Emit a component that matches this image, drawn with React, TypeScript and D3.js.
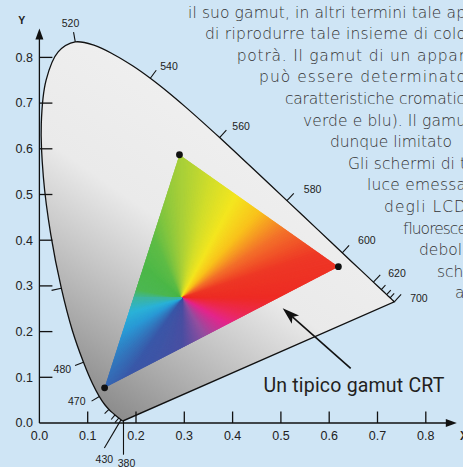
import React from 'react';
import * as d3 from 'd3';

const WIDTH = 463;
const HEIGHT = 467;

// CIE 1931 spectral locus (nm, x, y)
const locusNm = [380, 385, 390, 395, 400, 405, 410, 415, 420, 425, 430, 435, 440, 445, 450, 455, 460, 465, 470, 475, 480, 485, 490, 495, 500, 505, 510, 515, 520, 525, 530, 535, 540, 545, 550, 555, 560, 565, 570, 575, 580, 585, 590, 595, 600, 605, 610, 615, 620, 625, 630, 635, 640, 645, 650, 660, 670, 680, 700];
const locusX = [0.1741, 0.1740, 0.1738, 0.1736, 0.1733, 0.1730, 0.1726, 0.1721, 0.1714, 0.1703, 0.1689, 0.1669, 0.1644, 0.1611, 0.1566, 0.1510, 0.1440, 0.1355, 0.1241, 0.1096, 0.0913, 0.0687, 0.0454, 0.0235, 0.0082, 0.0039, 0.0139, 0.0389, 0.0743, 0.1142, 0.1547, 0.1929, 0.2296, 0.2658, 0.3016, 0.3373, 0.3731, 0.4087, 0.4441, 0.4788, 0.5125, 0.5448, 0.5752, 0.6029, 0.6270, 0.6482, 0.6658, 0.6801, 0.6915, 0.7006, 0.7079, 0.7140, 0.7190, 0.7230, 0.7260, 0.7300, 0.7320, 0.7334, 0.7347];
const locusY = [0.0050, 0.0050, 0.0049, 0.0049, 0.0048, 0.0048, 0.0048, 0.0048, 0.0051, 0.0058, 0.0069, 0.0086, 0.0109, 0.0138, 0.0177, 0.0227, 0.0297, 0.0399, 0.0578, 0.0868, 0.1327, 0.2007, 0.2950, 0.4127, 0.5384, 0.6548, 0.7502, 0.8120, 0.8338, 0.8262, 0.8059, 0.7816, 0.7543, 0.7243, 0.6923, 0.6589, 0.6245, 0.5896, 0.5547, 0.5202, 0.4866, 0.4544, 0.4242, 0.3965, 0.3725, 0.3514, 0.3340, 0.3197, 0.3083, 0.2993, 0.2920, 0.2859, 0.2809, 0.2770, 0.2740, 0.2700, 0.2680, 0.2666, 0.2653];

const axisTicks = [0, 0.1, 0.2, 0.3, 0.4, 0.5, 0.6, 0.7, 0.8];

// wavelength ticks on the locus
const tickNm = [440, 450, 460, 470, 480, 490, 520, 540, 560, 580, 600, 620, 630, 640, 650, 700];
const tickLen = [6, 6, 6, 9, 9, 10, 10, 10, 10, 10, 10, 10, 6, 6, 6, 10];
const labelNm = [470, 480, 520, 540, 560, 580, 600, 620, 700];
const labelDx = [-6, -4, -3, 4, 6, 10, 9, 8, 9];
const labelDy = [4, 7, -5, 0, 0, 0, -1.5, 2, 8];
const labelAnchor = ['end', 'end', 'middle', 'start', 'start', 'start', 'start', 'start', 'start'];
const leaderNm = [430, 380];
const leaderDx = [-16.6, 0];
const leaderDy = [28.2, 34];
const leaderLabelDx = [0, 3];
const leaderLabelDy = [15, 12];

// CRT gamut: green, red, blue primaries
const gamutX = [0.29, 0.619, 0.135];
const gamutY = [0.587, 0.342, 0.077];
const gamutCenter = [0.295, 0.2735];

// colour around the centre of the gamut (screen angle in degrees)
const hueAngles = [-180, -169, -140, -115, -90, -75, -62, -48, -33, -18, 0, 15, 30, 60, 90, 125, 150, 165, 180];
const hueColors = ['#3db5a0', '#4cb852', '#4cb848', '#5ebc46', '#a8cf38', '#d4de2a', '#f4e61f', '#f9c21c', '#f3712a', '#ee3826', '#ee2b24', '#ec2a55', '#e4268c', '#934fa0', '#4a4fa2', '#3a58a8', '#2a9ad6', '#2bb3d8', '#3db5a0'];

// annotation
const annText = 'Un tipico gamut CRT';
const annTail = [0.6445, 0.1197];
const annTip = [0.5037, 0.251];
const annLabel = [0.4638, 0.0685];

// running text on the right
const textLines = [
  'spazio dei colori di ogni monitor è detto',
  'il suo gamut, in altri termini tale ap',
  'di riprodurre tale insieme di colo',
  'potrà. Il gamut di un appar',
  'può essere determinato',
  'caratteristiche cromatic',
  'verde e blu). Il gamu',
  'dunque limitato',
  'Gli schermi di t',
  'luce emessa',
  'degli LCD',
  'fluoresce',
  'debol',
  'sch',
  'a',
];
const textStart = [173, 188, 205, 236.7, 259, 285, 303, 330, 348, 367, 384, 402, 419, 437, 455];
const textEnd = [470, 466, 466, 465, 466, 465, 466, 452, 466, 466, 466, 466, 465, 465, 465];

const xScale = d3.scaleLinear().domain([0, 0.8]).range([39.4, 425.8]);
const yScale = d3.scaleLinear().domain([0, 0.8]).range([423, 57.4]);

const hueColor = d3.scaleLinear<string>().domain(hueAngles).range(hueColors).interpolate(d3.interpolateRgb);

const tickGeom = (nm: number, len: number) => {
  const i = locusNm.indexOf(nm);
  const a = Math.max(i - 1, 0);
  const b = Math.min(i + 1, locusNm.length - 1);
  const tx = xScale(locusX[b]) - xScale(locusX[a]);
  const ty = yScale(locusY[b]) - yScale(locusY[a]);
  const n = Math.hypot(tx, ty);
  const x0 = xScale(locusX[i]);
  const y0 = yScale(locusY[i]);
  return { x0, y0, x1: x0 + (ty / n) * len, y1: y0 - (tx / n) * len };
};

const App = () => {
  const idx = locusNm.map((_, i) => i);
  const locusPath = d3.line<number>()
    .x(i => xScale(locusX[i]))
    .y(i => yScale(locusY[i]))
    .curve(d3.curveCatmullRom)(idx) + 'Z';

  const gamutPts = gamutX.map((x, i) => [xScale(x), yScale(gamutY[i])]);
  const cx = xScale(gamutCenter[0]);
  const cy = yScale(gamutCenter[1]);
  const arc = d3.arc<{ a0: number; a1: number }>()
    .innerRadius(0)
    .outerRadius(400)
    .startAngle(d => d.a0)
    .endAngle(d => d.a1);
  const wedges = d3.range(-180, 180, 1).map(deg => ({
    d: arc({ a0: ((deg + 90) * Math.PI) / 180, a1: ((deg + 91.6) * Math.PI) / 180 }) as string,
    fill: hueColor(deg + 0.5),
  }));

  const x0 = xScale(0);
  const y0 = yScale(0);

  // annotation arrow
  const tx = xScale(annTail[0]), ty = yScale(annTail[1]);
  const hx = xScale(annTip[0]), hy = yScale(annTip[1]);
  const al = Math.hypot(hx - tx, hy - ty);
  const ux = (hx - tx) / al, uy = (hy - ty) / al;
  const headL = 17, headW = 5.5;
  const bx = hx - ux * headL, by = hy - uy * headL;
  const nx = bx + ux * 4, ny = by + uy * 4;
  const head = `M${hx},${hy}L${bx - uy * headW},${by + ux * headW}L${nx},${ny}L${bx + uy * headW},${by - ux * headW}Z`;

  return (
    <svg width={WIDTH} height={HEIGHT} style={{ position: 'absolute', left: 0, top: 0 }}
      fontFamily="'Liberation Sans', Arial, sans-serif">
      <defs>
        <linearGradient id="locusFill" gradientUnits="userSpaceOnUse" x1={300} y1={170} x2={120} y2={430}>
          <stop offset="0" stopColor="#efefef" />
          <stop offset="0.38" stopColor="#eaeaea" />
          <stop offset="0.6" stopColor="#c8c8c8" />
          <stop offset="0.8" stopColor="#a8a8a8" />
          <stop offset="1" stopColor="#878787" />
        </linearGradient>
        <clipPath id="gamutClip">
          <polygon points={gamutPts.map(p => p.join(',')).join(' ')} />
        </clipPath>
      </defs>
      <rect width={WIDTH} height={HEIGHT} fill="#cfe5f5" />

      {/* running text */}
      <g fontFamily="'DejaVu Sans', sans-serif" fontWeight={200} fontSize={15.5} fill="#333">
        {textLines.map((t, i) => (
          <text key={i} x={textStart[i]} y={-4 + 21.6 * i}
            {...(t.length > 5 ? { textLength: textEnd[i] - textStart[i], lengthAdjust: 'spacing' } : {})}>
            {t}
          </text>
        ))}
      </g>

      {/* spectral locus */}
      <path d={locusPath} fill="url(#locusFill)" stroke="#111" strokeWidth={1.3} />

      {/* gamut triangle */}
      <g clipPath="url(#gamutClip)">
        <g transform={`translate(${cx},${cy})`}>
          {wedges.map((w, i) => (
            <path key={i} d={w.d} fill={w.fill} stroke={w.fill} strokeWidth={0.8} />
          ))}
        </g>
      </g>
      {gamutPts.map((p, i) => (
        <circle key={i} cx={p[0]} cy={p[1]} r={3.4} fill="#111" />
      ))}

      {/* wavelength ticks */}
      <g stroke="#111" strokeWidth={1.1}>
        {tickNm.map((nm, i) => {
          const g = tickGeom(nm, tickLen[i]);
          return <line key={nm} x1={g.x0} y1={g.y0} x2={g.x1} y2={g.y1} />;
        })}
        {leaderNm.map((nm, i) => {
          const j = locusNm.indexOf(nm);
          const lx = xScale(locusX[j]), ly = yScale(locusY[j]);
          return <line key={nm} x1={lx} y1={ly} x2={lx + leaderDx[i]} y2={ly + leaderDy[i]} />;
        })}
      </g>
      <g fontSize={10.5} fill="#222">
        {labelNm.map((nm, i) => {
          const g = tickGeom(nm, tickLen[tickNm.indexOf(nm)]);
          return (
            <text key={nm} x={g.x1 + labelDx[i]} y={g.y1 + labelDy[i]} textAnchor={labelAnchor[i]}>{nm}</text>
          );
        })}
        {leaderNm.map((nm, i) => {
          const j = locusNm.indexOf(nm);
          const lx = xScale(locusX[j]) + leaderDx[i], ly = yScale(locusY[j]) + leaderDy[i];
          return (
            <text key={nm} x={lx + leaderLabelDx[i]} y={ly + leaderLabelDy[i]} textAnchor="middle">{nm}</text>
          );
        })}
      </g>

      {/* axes */}
      <g stroke="#111" strokeWidth={1.3}>
        <line x1={x0} y1={y0} x2={x0} y2={yScale(0.8) - 22} />
        <line x1={x0} y1={y0} x2={xScale(0.8) + 24} y2={y0} />
        {axisTicks.filter(t => t > 0).map(t => (
          <line key={'y' + t} x1={x0} y1={yScale(t)} x2={x0 + 13} y2={yScale(t)} />
        ))}
        {axisTicks.filter(t => t > 0).map(t => (
          <line key={'x' + t} x1={xScale(t)} y1={y0} x2={xScale(t)} y2={y0 - 11.5} />
        ))}
      </g>
      <path d={`M${x0},${yScale(0.8) - 29}l-4,11h8Z`} fill="#111" />
      <path d={`M${xScale(0.8) + 31},${y0}l-11,-4v8Z`} fill="#111" />
      <g fontSize={12.5} fill="#222">
        {axisTicks.map(t => (
          <text key={'yl' + t} x={33} y={yScale(t) + 4.3} textAnchor="end">{d3.format('.1f')(t)}</text>
        ))}
        {axisTicks.map(t => (
          <text key={'xl' + t} x={xScale(t)} y={y0 + 16.5} textAnchor="middle">{d3.format('.1f')(t)}</text>
        ))}
      </g>
      <text x={21.7} y={24} fontSize={10.5} fontWeight="bold" textAnchor="middle" fill="#222">Y</text>
      <text x={460} y={440} fontSize={12} fontWeight="bold" fill="#222">X</text>

      {/* annotation */}
      <line x1={tx} y1={ty} x2={nx} y2={ny} stroke="#111" strokeWidth={1.6} />
      <path d={head} fill="#111" />
      <text x={xScale(annLabel[0])} y={yScale(annLabel[1])} fontFamily="Roboto, sans-serif" fontSize={19.5}
        fill="#231f20" textLength={181} lengthAdjust="spacing">{annText}</text>
    </svg>
  );
};

export default App;
